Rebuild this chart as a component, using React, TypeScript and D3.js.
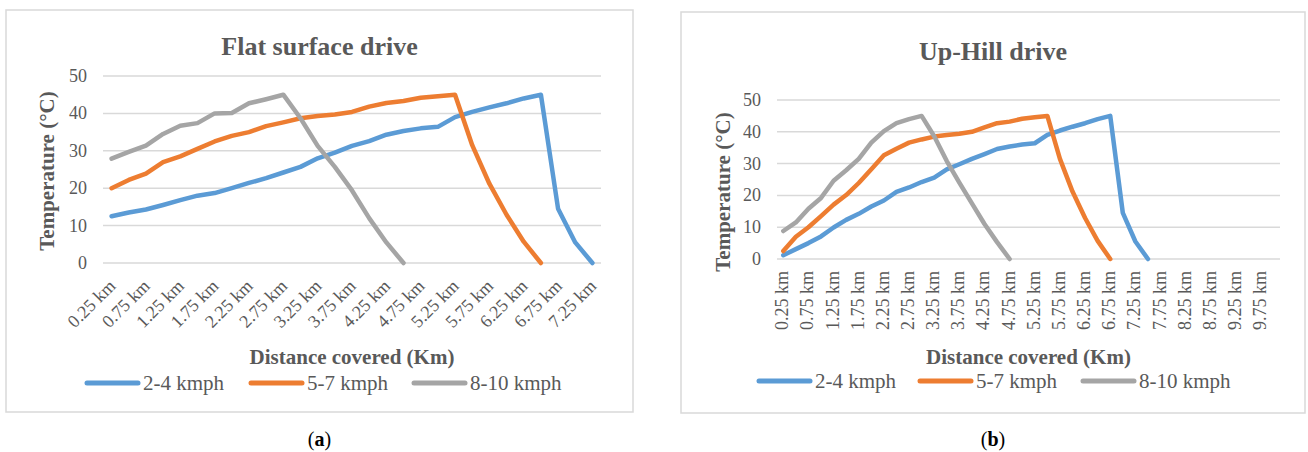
import * as d3 from "d3";

// distance categories (x axis)
const flatKm = [
  "0.25 km", "0.50 km", "0.75 km", "1.00 km", "1.25 km", "1.50 km", "1.75 km", "2.00 km",
  "2.25 km", "2.50 km", "2.75 km", "3.00 km", "3.25 km", "3.50 km", "3.75 km", "4.00 km",
  "4.25 km", "4.50 km", "4.75 km", "5.00 km", "5.25 km", "5.50 km", "5.75 km", "6.00 km",
  "6.25 km", "6.50 km", "6.75 km", "7.00 km", "7.25 km",
];
const hillKm = [
  "0.25 km", "0.50 km", "0.75 km", "1.00 km", "1.25 km", "1.50 km", "1.75 km", "2.00 km",
  "2.25 km", "2.50 km", "2.75 km", "3.00 km", "3.25 km", "3.50 km", "3.75 km", "4.00 km",
  "4.25 km", "4.50 km", "4.75 km", "5.00 km", "5.25 km", "5.50 km", "5.75 km", "6.00 km",
  "6.25 km", "6.50 km", "6.75 km", "7.00 km", "7.25 km", "7.50 km", "7.75 km", "8.00 km",
  "8.25 km", "8.50 km", "8.75 km", "9.00 km", "9.25 km", "9.50 km", "9.75 km", "10.00 km",
];

// temperatures (°C), flat surface drive
const flatSlow = [12.5, 13.5, 14.3, 15.5, 16.8, 18, 18.7, 20, 21.4, 22.7, 24.2, 25.7, 28, 29.5, 31.3,
  32.6, 34.3, 35.3, 36, 36.4, 39, 40.4, 41.6, 42.7, 44, 45, 14.5, 5.5, 0];
const flatMid = [20, 22.2, 23.9, 27, 28.5, 30.5, 32.5, 34, 35, 36.6, 37.6, 38.7, 39.3, 39.7, 40.4,
  41.8, 42.8, 43.3, 44.2, 44.6, 45, 31.5, 21.2, 12.9, 5.7, 0];
const flatFast = [27.9, 29.7, 31.4, 34.5, 36.7, 37.4, 40, 40.1, 42.7, 43.8, 45, 38.7, 31.3, 25.7,
  19.4, 12, 5.5, 0];

// temperatures (°C), up-hill drive
const hillSlow = [1.2, 3.1, 5, 7.1, 9.9, 12.3, 14.2, 16.5, 18.4, 21.1, 22.5, 24.2, 25.6, 28.2, 29.8,
  31.5, 33, 34.6, 35.4, 36, 36.4, 39, 40.4, 41.6, 42.7, 44, 45, 14.5, 5.5, 0];
const hillMid = [2.5, 7, 10, 13.5, 17.1, 20.1, 23.9, 28.2, 32.6, 34.7, 36.6, 37.6, 38.5, 39, 39.4,
  40, 41.4, 42.7, 43.2, 44.1, 44.6, 45, 31.5, 21.2, 12.9, 5.7, 0];
const hillFast = [8.8, 11.5, 15.8, 19.2, 24.6, 27.9, 31.5, 36.6, 40.2, 42.7, 44, 45, 38.6, 30.8,
  24, 17.5, 11, 5.3, 0];

const seriesNames = ["2-4 kmph", "5-7 kmph", "8-10 kmph"];
const seriesColors = ["#5b9bd5", "#ed7d31", "#a5a5a5"];
const yTicks = [0, 10, 20, 30, 40, 50];

const font = "'Liberation Serif', 'Times New Roman', serif";
const grey = "#595959";
const grid = "#d9d9d9";

type ChartProps = {
  box: [number, number, number, number];
  plot: { left: number; right: number; top: number; bottom: number };
  title: string;
  titleY: number;
  categories: string[];
  series: number[][];
  rotate: number;
  tickY: number;
  yTitle: [number, number];
  legendX: number[];
  legendY: number;
  caption: string;
};

function Chart(p: ChartProps) {
  const [bx, by, bw, bh] = p.box;
  const x = d3.scaleBand().domain(p.categories).range([p.plot.left, p.plot.right]);
  const half = x.bandwidth() / 2;
  const cx = (c: string) => (x(c) as number) + half;
  const y = d3.scaleLinear().domain([0, 50]).range([p.plot.bottom, p.plot.top]);
  const line = d3
    .line<number>()
    .x((_, i) => cx(p.categories[i]))
    .y((d) => y(d));
  const midBox = bx + bw / 2;
  const midPlot = (p.plot.left + p.plot.right) / 2;

  return (
    <g fontFamily={font}>
      <rect x={bx} y={by} width={bw} height={bh} fill="#fff" stroke={grid} strokeWidth={1.5} />
      <text x={midBox} y={p.titleY} textAnchor="middle" fontSize={26} fontWeight="bold" fill={grey}>
        {p.title}
      </text>
      {yTicks.map((t) => (
        <g key={t}>
          <line x1={p.plot.left} x2={p.plot.right} y1={y(t)} y2={y(t)} stroke={grid} strokeWidth={1.5} />
          <text x={p.plot.left - 16} y={y(t) + 6} textAnchor="end" fontSize={18} fill={grey}>
            {t}
          </text>
        </g>
      ))}
      {p.categories.map((c, i) =>
        i % 2 === 0 ? (
          <text
            key={c}
            transform={`translate(${cx(c) + 5},${p.tickY}) rotate(${-p.rotate})`}
            textAnchor="end"
            fontSize={18}
            fill={grey}
          >
            {c}
          </text>
        ) : null
      )}
      {p.series.map((s, k) => (
        <path
          key={k}
          d={line(s) ?? ""}
          fill="none"
          stroke={seriesColors[k]}
          strokeWidth={4.5}
          strokeLinejoin="round"
          strokeLinecap="round"
        />
      ))}
      <text
        transform={`translate(${p.yTitle[0]},${p.yTitle[1]}) rotate(-90)`}
        textAnchor="middle"
        fontSize={21}
        fontWeight="bold"
        fill={grey}
      >
        Temperature (°C)
      </text>
      <text x={midPlot} y={364} textAnchor="middle" fontSize={21} fontWeight="bold" fill={grey}>
        Distance covered (Km)
      </text>
      {seriesNames.map((n, k) => (
        <g key={n}>
          <line
            x1={p.legendX[k]}
            x2={p.legendX[k] + 51}
            y1={p.legendY}
            y2={p.legendY}
            stroke={seriesColors[k]}
            strokeWidth={5}
            strokeLinecap="round"
          />
          <text x={p.legendX[k] + 56} y={p.legendY + 7} fontSize={21} fill={grey}>
            {n}
          </text>
        </g>
      ))}
      <text x={midBox} y={446} textAnchor="middle" fontSize={20} fill="#000">
        (<tspan fontWeight="bold">{p.caption}</tspan>)
      </text>
    </g>
  );
}

export default function App() {
  return (
    <svg
      width={1308}
      height={452}
      style={{ position: "absolute", left: 0, top: 0, background: "#fff" }}
    >
      <Chart
        box={[6, 10, 627, 402]}
        plot={{ left: 103, right: 601, top: 76, bottom: 263 }}
        title="Flat surface drive"
        titleY={55}
        categories={flatKm}
        series={[flatSlow, flatMid, flatFast]}
        rotate={45}
        tickY={287}
        yTitle={[54, 171]}
        legendX={[87, 251, 414]}
        legendY={383}
        caption="a"
      />
      <Chart
        box={[681, 12, 624, 401]}
        plot={{ left: 777, right: 1280, top: 100, bottom: 259 }}
        title="Up-Hill drive"
        titleY={60}
        categories={hillKm}
        series={[hillSlow, hillMid, hillFast]}
        rotate={90}
        tickY={271}
        yTitle={[730, 192]}
        legendX={[759, 920, 1083]}
        legendY={381}
        caption="b"
      />
    </svg>
  );
}
